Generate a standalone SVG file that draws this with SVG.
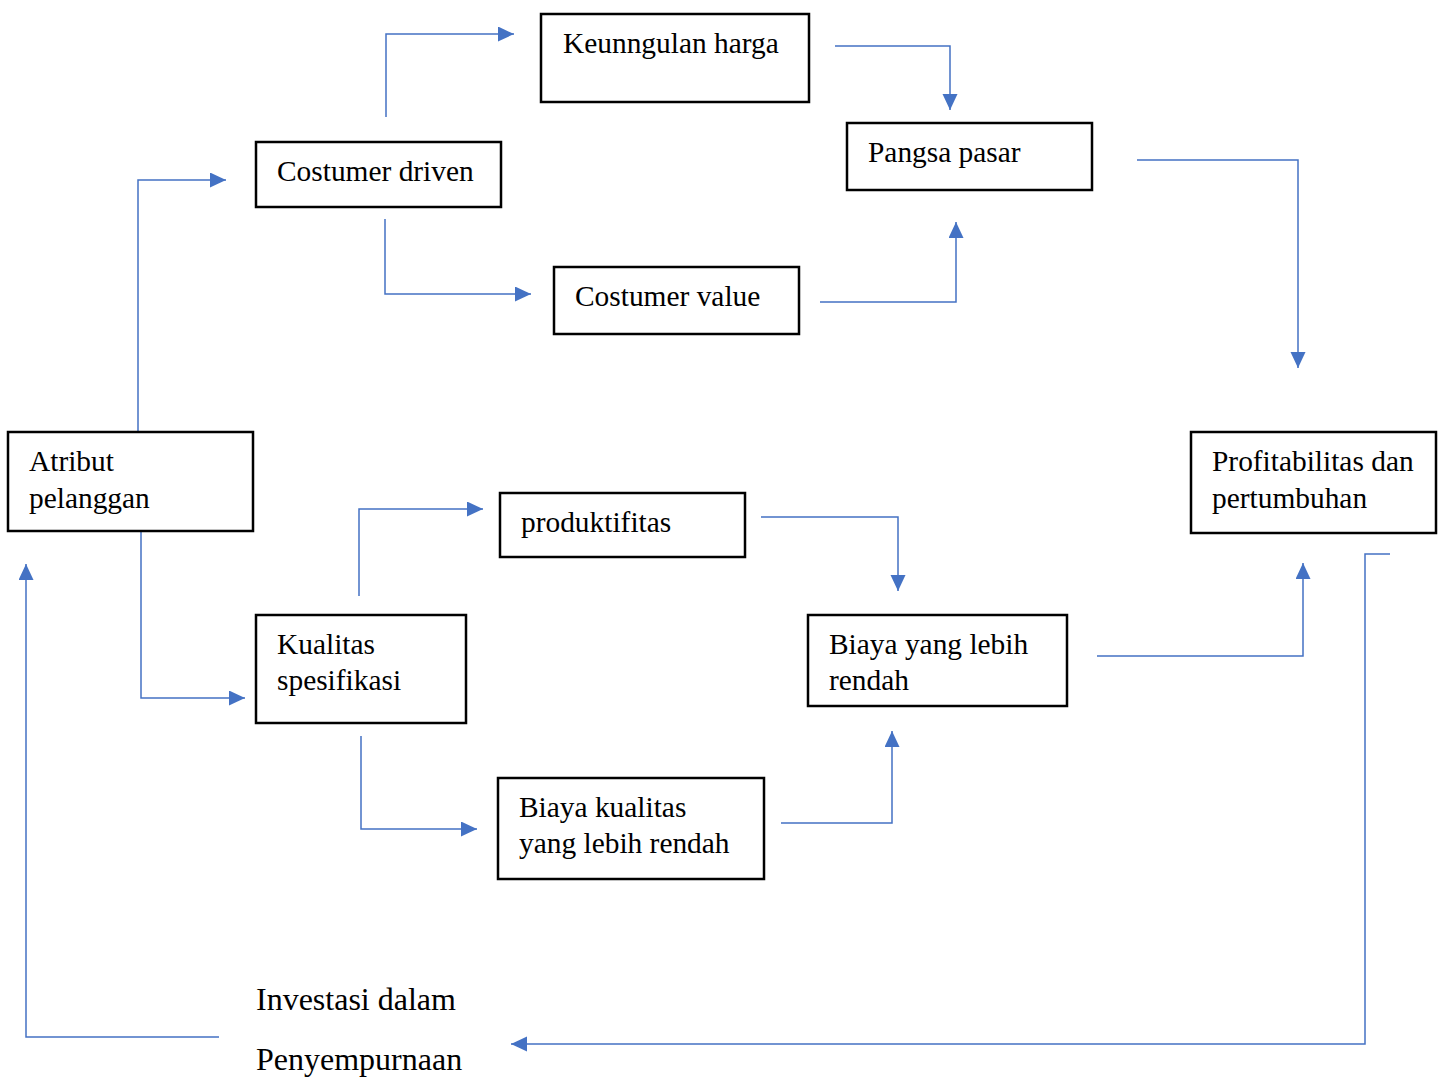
<svg xmlns="http://www.w3.org/2000/svg" width="1445" height="1077" viewBox="0 0 1445 1077">
<style>
.box{fill:#fff;stroke:#000;stroke-width:2.5}
.t{font-family:"Liberation Serif","Times New Roman",serif;font-size:29.4px;fill:#000}
.b{font-size:32px}
.c{fill:none;stroke:#4472C4;stroke-width:1.5}
</style>
<defs>
<marker id="ah" markerUnits="userSpaceOnUse" markerWidth="17" markerHeight="16" refX="16" refY="7.5" orient="auto">
<path d="M0,0 L16,7.5 L0,15 Z" fill="#4472C4"/>
</marker>
</defs>
<rect width="1445" height="1077" fill="#fff"/>
<g id="connectors">
<path class="c" d="M386,117 V34 H514" marker-end="url(#ah)"/>
<path class="c" d="M835,46 H950 V110" marker-end="url(#ah)"/>
<path class="c" d="M1137,160 H1298 V368" marker-end="url(#ah)"/>
<path class="c" d="M138,432 V180 H226" marker-end="url(#ah)"/>
<path class="c" d="M385,219 V294 H531" marker-end="url(#ah)"/>
<path class="c" d="M820,302 H956 V222" marker-end="url(#ah)"/>
<path class="c" d="M141,531 V698 H245" marker-end="url(#ah)"/>
<path class="c" d="M359,596 V509 H483" marker-end="url(#ah)"/>
<path class="c" d="M761,517 H898 V591" marker-end="url(#ah)"/>
<path class="c" d="M361,736 V829 H477" marker-end="url(#ah)"/>
<path class="c" d="M781,823 H892 V731" marker-end="url(#ah)"/>
<path class="c" d="M1097,656 H1303 V563" marker-end="url(#ah)"/>
<path class="c" d="M1390,554 H1365 V1044 H511" marker-end="url(#ah)"/>
<path class="c" d="M219,1037 H26 V564" marker-end="url(#ah)"/>
</g>
<g id="keunggulan"><rect class="box" x="541" y="14" width="268" height="88"/><text class="t" x="563" y="53">Keunngulan harga</text></g>
<g id="costumer-driven"><rect class="box" x="256" y="142" width="245" height="65"/><text class="t" x="277" y="181">Costumer driven</text></g>
<g id="pangsa-pasar"><rect class="box" x="847" y="123" width="245" height="67"/><text class="t" x="868" y="162">Pangsa pasar</text></g>
<g id="costumer-value"><rect class="box" x="554" y="267" width="245" height="67"/><text class="t" x="575" y="306">Costumer value</text></g>
<g id="atribut"><rect class="box" x="8" y="432" width="245" height="99"/><text class="t" x="29" y="471">Atribut</text><text class="t" x="29" y="508">pelanggan</text></g>
<g id="profitabilitas"><rect class="box" x="1191" y="432" width="245" height="101"/><text class="t" x="1212" y="471">Profitabilitas dan</text><text class="t" x="1212" y="508">pertumbuhan</text></g>
<g id="produktifitas"><rect class="box" x="500" y="493" width="245" height="64"/><text class="t" x="521" y="532">produktifitas</text></g>
<g id="kualitas"><rect class="box" x="256" y="615" width="210" height="108"/><text class="t" x="277" y="654">Kualitas</text><text class="t" x="277" y="690">spesifikasi</text></g>
<g id="biaya-rendah"><rect class="box" x="808" y="615" width="259" height="91"/><text class="t" x="829" y="654">Biaya yang lebih</text><text class="t" x="829" y="690">rendah</text></g>
<g id="biaya-kualitas"><rect class="box" x="498" y="778" width="266" height="101"/><text class="t" x="519" y="817">Biaya kualitas</text><text class="t" x="519" y="853">yang lebih rendah</text></g>
<g id="investasi"><text class="t b" x="256" y="1010">Investasi dalam</text><text class="t b" x="256" y="1070">Penyempurnaan</text></g>
</svg>
